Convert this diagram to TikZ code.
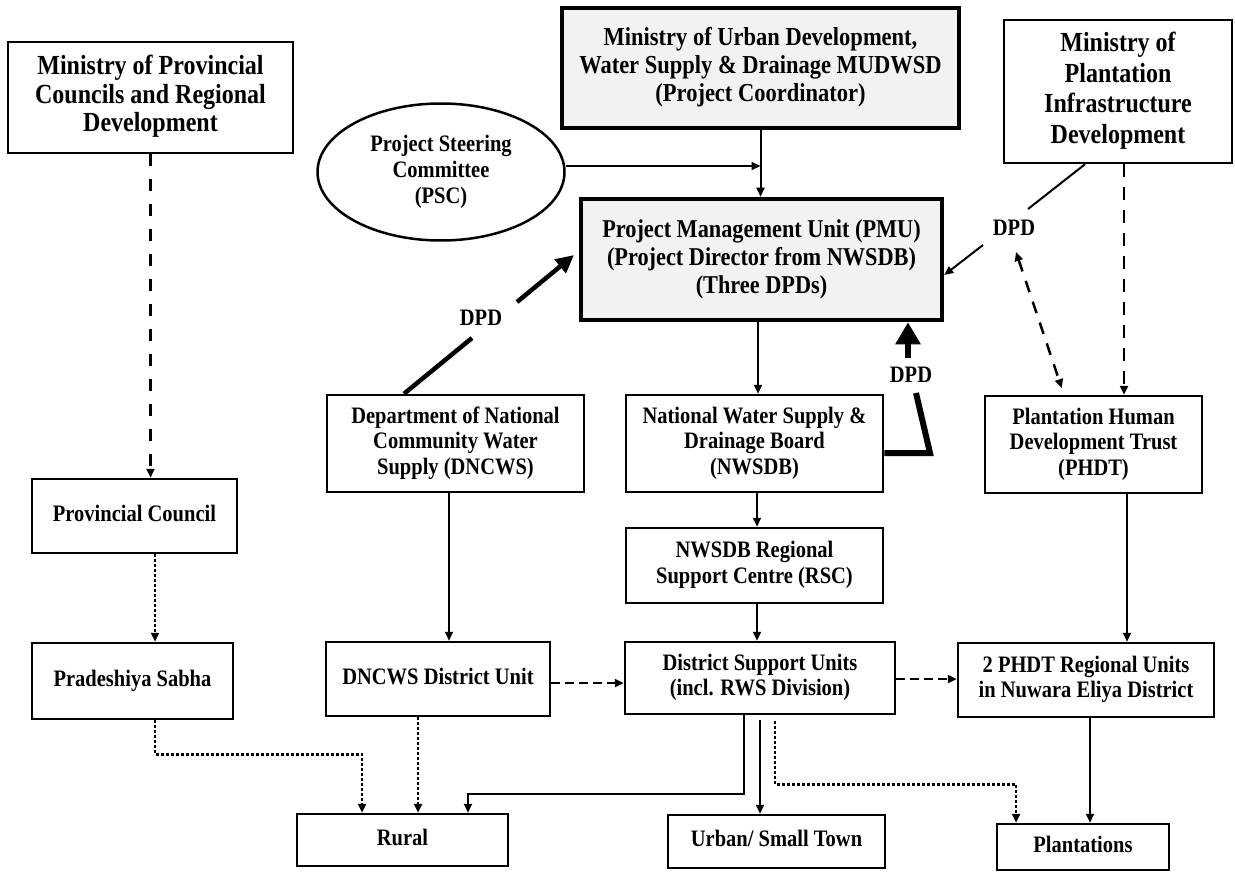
\documentclass[tikz,border=0pt]{standalone}
\usepackage{fontspec}
\usepackage{graphicx}
\setmainfont{Liberation Serif}
\usetikzlibrary{arrows.meta,shapes.geometric}
\definecolor{boxgray}{HTML}{F2F2F2}
\newcommand{\tx}[1]{\scalebox{1}[1.15]{\begin{tabular}{@{}c@{}}#1\end{tabular}}}
\begin{document}
\begin{tikzpicture}[x=1pt,y=-1pt,
  sz/.style 2 args={minimum width=#1, minimum height=#2},
  fsmall/.style={font=\fontsize{20.5}{22.2}\selectfont\bfseries},
  box/.style={draw, line width=2.5pt, inner sep=0pt, align=center, fsmall},
  thickbox/.style={box, line width=4.5pt, fill=boxgray},
  lbl/.style={inner sep=1pt, fsmall},
  tip/.style={-{Triangle[length=9pt,width=8pt]}},
  arr/.style={line width=2pt, tip},
  dashv/.style={line width=2.5pt, dash pattern=on 12pt off 12pt, tip},
  dashh/.style={line width=2.5pt, dash pattern=on 9pt off 5pt, tip},
  dotln/.style={line width=2.5pt, dash pattern=on 2.5pt off 2.5pt},
  dotarr/.style={dotln, tip},
  thickln/.style={line width=4.5pt},
  thickarr/.style={line width=4.5pt, -{Triangle[length=18pt,width=17pt]}},
  hugeln/.style={line width=6pt, line join=miter},
  hugearr/.style={line width=6pt, -{Triangle[length=22pt,width=24pt]}}
]
\useasboundingbox (0,0) rectangle (1235,872);

% top row
\node[box, sz={285}{111}, font=\fontsize{24}{24.8}\selectfont\bfseries] (mpc) at (150.5,97.5)
  {\tx{Ministry of Provincial\\Councils and Regional\\Development}};
\node[thickbox, sz={397}{120}, font=\fontsize{22.5}{24.3}\selectfont\bfseries] (mud) at (760.5,68)
  {\tx{Ministry of Urban Development,\\Water Supply \& Drainage MUDWSD\\(Project Coordinator)}};
\node[box, sz={228}{143}, font=\fontsize{24}{26.5}\selectfont\bfseries] (plmin) at (1118,91.5)
  {\tx{Ministry of\\Plantation\\Infrastructure\\Development}};
\node[draw, ellipse, line width=2.5pt, inner sep=0pt, align=center, sz={247}{137},
  font=\fontsize{20.5}{22.6}\selectfont\bfseries] (psc) at (441,172)
  {\tx{Project Steering\\Committee\\(PSC)}};
\node[thickbox, sz={361}{121}, font=\fontsize{22.3}{24.3}\selectfont\bfseries] (pmu) at (761.5,259.5)
  {\tx{Project Management Unit (PMU)\\(Project Director from NWSDB)\\(Three DPDs)}};

% second row
\node[box, sz={257}{97}] (dncws) at (455.5,443.5)
  {\tx{Department of National\\Community Water\\Supply (DNCWS)}};
\node[box, sz={257}{97}] (nwsdb) at (754.5,443.5)
  {\tx{National Water Supply \&\\Drainage Board\\(NWSDB)}};
\node[box, sz={217}{97}] (phdt) at (1093.5,444.5)
  {\tx{Plantation Human\\Development Trust\\(PHDT)}};

\node[box, sz={205}{74}] (pc) at (134.5,516) {\tx{Provincial Council}};
\node[box, sz={257}{75}] (rsc) at (754.5,565.5) {\tx{NWSDB Regional\\Support Centre (RSC)}};

% third row
\node[box, sz={201}{76}] (ps) at (132.5,681) {\tx{Pradeshiya Sabha}};
\node[box, sz={224}{74}] (dd) at (438,679) {\tx{DNCWS District Unit}};
\node[box, sz={270}{72}] (dsu) at (760,678) {\tx{District Support Units\\(incl. RWS Division)}};
\node[box, sz={256}{74}] (phr) at (1086,680) {\tx{2 PHDT Regional Units\\in Nuwara Eliya District}};

% bottom row
\node[box, sz={211}{52}] (rural) at (402.5,840) {\tx{Rural}};
\node[box, sz={217}{53}] (urban) at (776.5,841.5) {\tx{Urban/ Small Town}};
\node[box, sz={172}{46}] (plant) at (1083,847) {\tx{Plantations}};

% DPD labels
\node[lbl] (dpd1) at (481,320) {\tx{DPD}};
\node[lbl] (dpd2) at (1014,230) {\tx{DPD}};
\node[lbl] (dpd3) at (911,377) {\tx{DPD}};

% coordinates for broken connectors
\coordinate (l1) at (472,338);
\coordinate (l2) at (517,302);
\coordinate (l3) at (574,255);
\coordinate (r1) at (1028,209);
\coordinate (r2) at (983,245);
\coordinate (d1) at (1016,252);
\coordinate (b1) at (930,453);
\coordinate (b2) at (916,393);
\coordinate (b3) at (908,358);

% top connectors
\draw[arr] (mud.south) -- (mud.south |- pmu.north);
\draw[arr] ([yshift=6pt]psc.east) -- ([yshift=6pt]psc.east -| mud.south);
\draw[dashv, dash pattern=on 12pt off 13pt] (mpc.south) -- (mpc.south |- pc.north);

% DPD left
\draw[thickln] ([xshift=-51.5pt]dncws.north) -- (l1);
\draw[thickarr] (l2) -- (l3);

% DPD right
\draw[line width=2pt] ([xshift=-33pt]plmin.south) -- (r1);
\draw[arr] (r2) -- ([yshift=-15.5pt]pmu.east);
\draw[line width=2.5pt, dash pattern=on 12pt off 10pt,
  {Triangle[length=9pt,width=8pt]}-{Triangle[length=9pt,width=8pt]}, shorten >=7pt]
  (d1) -- ([xshift=-29.5pt]phdt.north);
\draw[dashv, dash pattern=on 13pt off 10pt] ([xshift=6pt]plmin.south) -- ([xshift=30.5pt]phdt.north);

% DPD bottom (NWSDB to PMU)
\draw[hugeln] ([yshift=-9.5pt]nwsdb.east) -- (b1) -- (b2);
\draw[hugearr] (b3) -- ([xshift=146.5pt]pmu.south);

% vertical chain
\draw[arr] ([xshift=-3.5pt]pmu.south) -- ([xshift=-3.5pt]pmu.south |- nwsdb.north);
\draw[arr] ([xshift=2.5pt]nwsdb.south) -- ([xshift=2.5pt]nwsdb.south |- rsc.north);
\draw[arr] ([xshift=2.5pt]rsc.south) -- ([xshift=2.5pt]rsc.south |- dsu.north);
\draw[arr] ([xshift=-6.5pt]dncws.south) -- ([xshift=11pt]dd.north);
\draw[arr] ([xshift=33.5pt]phdt.south) -- ([xshift=33.5pt]phdt.south |- phr.north);
\draw[dotarr] ([xshift=20.5pt]pc.south) -- ([xshift=22.5pt]ps.north);

% horizontal dashed
\draw[dashh] ([yshift=-4pt]dd.east) -- ([yshift=-4pt]dd.east -| dsu.west);
\draw[dashh] ([yshift=-1pt]dsu.east) -- ([yshift=-1pt]dsu.east -| phr.west);

% bottom connectors
\draw[dotarr] ([xshift=22.5pt]ps.south) -- ++(0,34) -| ([xshift=-40.5pt]rural.north);
\draw[dotarr] ([xshift=-20pt]dd.south) -- ([xshift=15.5pt]rural.north);
\draw[arr] ([xshift=-16pt]dsu.south) -- ++(0,79) -| ([xshift=65.5pt]rural.north);
\draw[arr] ([yshift=-5pt]dsu.south) -- (dsu.south |- urban.north);
\draw[dotarr] ([xshift=15pt,yshift=-6pt]dsu.south) -- ++(0,63) -| ([xshift=-67pt]plant.north);
\draw[arr] ([xshift=4pt]phr.south) -- ([xshift=4pt]phr.south |- plant.north);
\end{tikzpicture}
\end{document}
